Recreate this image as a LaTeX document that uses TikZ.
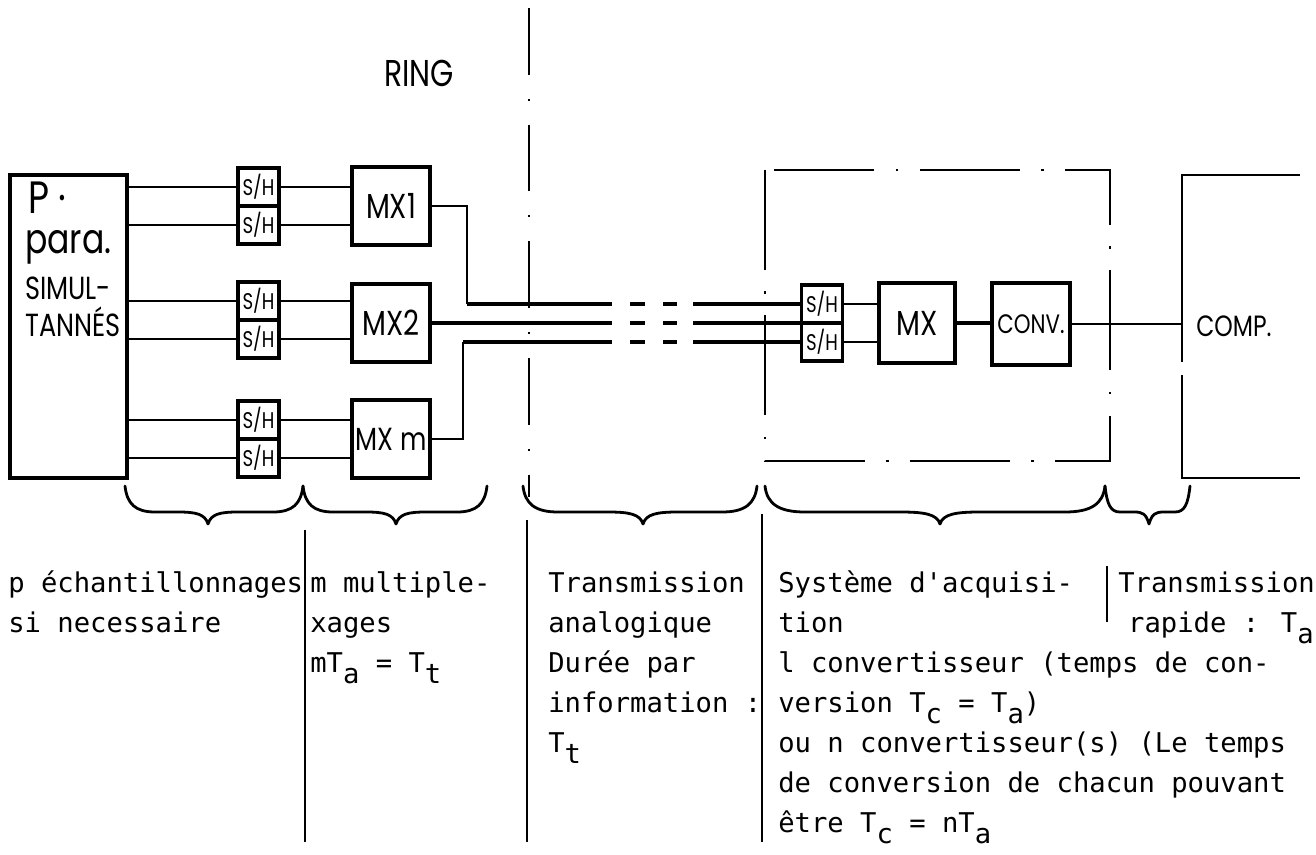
\documentclass[tikz,border=0pt]{standalone}
\usepackage{fontspec}
\setmainfont{DejaVu Sans Mono}
\newfontfamily\monof{DejaVu Sans Mono}
\newfontfamily\handf[FakeStretch=0.8]{Poppins}
\newcommand\dn[1]{\raisebox{-0.42em}{#1}}
\newcommand\hbrace[4]{%
  \draw[bracel] (#1,486) .. controls (#1+2,504) and (#1+#4*0.35,512) .. (#1+#4,512)
    -- (#2-#4,512) .. controls (#2-#4*0.4,512) and (#2-3,514) .. (#2,524)
    .. controls (#2+3,514) and (#2+#4*0.4,512) .. (#2+#4,512)
    -- (#3-#4,512) .. controls (#3-#4*0.35,512) and (#3-2,504) .. (#3,486);}
\begin{document}
\begin{tikzpicture}[x=0.75pt,y=-0.75pt,
  box/.style={draw,line width=2.3pt,inner sep=0pt},
  shbox/.style={box,minimum width=30.75pt,minimum height=28.5pt,font=\handf\fontsize{17}{17}\selectfont},
  mxbox/.style={box,minimum width=58.5pt,minimum height=58.5pt,font=\handf\fontsize{26}{26}\selectfont},
  wire/.style={line width=2.1pt},
  twire/.style={line width=2.8pt},
  dashdot/.style={line width=1.4pt,dash pattern=on 50pt off 18pt on 1.5pt off 18pt},
  rectdd/.style={line width=1.5pt,dash pattern=on 75pt off 16pt on 2pt off 16pt},
  sep/.style={line width=1.8pt},
  bracel/.style={line width=2.1pt,line cap=round,line join=round},
  txt/.style={font=\monof\fontsize{20.4}{30}\selectfont,inner sep=0pt,anchor=base west},
  hand/.style={font=\handf\fontsize{24}{24}\selectfont,inner sep=0pt,anchor=base west}
]
\useasboundingbox (0,0) rectangle (1316,855);

% RING label and main dash-dot line
\node[font=\handf\fontsize{28}{28}\selectfont,inner sep=0pt] (ring) at (419,73) {RING};
\coordinate (vtop) at (529,8);
\coordinate (vbot) at (529,497);
\draw[dashdot] (vtop) -- (vbot);

% P box
\node[box,minimum width=87.75pt,minimum height=227.25pt] (P) at (68.5,326.5) {};
\node[hand,font=\handf\fontsize{34}{34}\selectfont] (pt1) at (28,214) {P\hspace{0.2em}·};
\node[hand,font=\handf\fontsize{31}{31}\selectfont] (pt2) at (25,254) {para.};
\node[hand] (pt3) at (25,300) {SIMUL-};
\node[hand] (pt4) at (25,337) {TANNÉS};

% S/H left
\node[shbox] (sh1a) at (258.5,187) {S/H};
\node[shbox] (sh1b) at (258.5,225) {S/H};
\node[shbox] (sh2a) at (258.5,301) {S/H};
\node[shbox] (sh2b) at (258.5,339) {S/H};
\node[shbox] (sh3a) at (258.5,420) {S/H};
\node[shbox] (sh3b) at (258.5,458) {S/H};

% MX boxes
\node[mxbox] (mx1) at (391,206) {MX1};
\node[mxbox] (mx2) at (391,323) {MX2};
\node[mxbox,font=\handf\fontsize{24}{24}\selectfont] (mxm) at (391,439) {MX m};

% wires P -> S/H -> MX
\foreach \s in {sh1a,sh1b,sh2a,sh2b,sh3a,sh3b}{
  \draw[wire] (P.east |- \s.west) -- (\s.west);
}
\draw[wire] (sh1a.east) -- (mx1.west |- sh1a.east);
\draw[wire] (sh1b.east) -- (mx1.west |- sh1b.east);
\draw[wire] (sh2a.east) -- (mx2.west |- sh2a.east);
\draw[wire] (sh2b.east) -- (mx2.west |- sh2b.east);
\draw[wire] (sh3a.east) -- (mxm.west |- sh3a.east);
\draw[wire] (sh3b.east) -- (mxm.west |- sh3b.east);

% transmission lines
\coordinate (j1) at (467,304);
\coordinate (j3) at (463,342);
\coordinate (e1) at (612,304);
\coordinate (e2) at (612,323);
\coordinate (e3) at (612,342);
\draw[wire] (mx1.east) -| (j1);
\draw[twire] (j1) -- (e1);
\draw[twire] (mx2.east) -- (e2);
\draw[wire] (mxm.east) -| (j3);
\draw[twire] (j3) -- (e3);
\foreach \y in {304,323,342}{
  \draw[twire] (630,\y) -- (645,\y);
  \draw[twire] (663,\y) -- (677,\y);
}

% acquisition system (dash-dot frame)
\draw[rectdd] (765,170) rectangle (1110,461);
\node[shbox] (rsha) at (822,304) {S/H};
\node[shbox] (rshb) at (822,342) {S/H};
\coordinate (s1) at (693,304);
\coordinate (s2) at (693,323);
\coordinate (s3) at (693,342);
\draw[twire] (s1) -- (rsha.west |- s1);
\draw[twire] (s2) -- (s2 -| rsha.west);
\draw[twire] (s3) -- (rshb.west |- s3);
\node[mxbox,minimum width=57pt,minimum height=60pt] (mxr) at (917,323) {MX};
\node[box,minimum width=58.5pt,minimum height=61.5pt,font=\handf\fontsize{20}{20}\selectfont] (conv) at (1031,324) {CONV.};
\draw[wire] (rsha.east |- s1) -- (mxr.west |- s1);
\draw[wire] (rshb.east |- s3) -- (mxr.west |- s3);
\draw[twire] (mxr.east) -- (mxr.east -| conv.west);

% computer
\coordinate (ctl) at (1182,175);
\coordinate (ctr) at (1300,175);
\coordinate (cg1) at (1182,362);
\coordinate (cg2) at (1182,375);
\coordinate (cbl) at (1182,478);
\coordinate (cbr) at (1300,478);
\coordinate (compin) at (1182,324);
\draw[wire] (ctr) -- (ctl) -- (cg1);
\draw[wire] (cg2) -- (cbl) -- (cbr);
\node[font=\handf\fontsize{22}{22}\selectfont,inner sep=0pt] (comp) at (1234,326) {COMP.};
\draw[wire] (conv.east) -- (compin);

% braces
\hbrace{125}{208}{303}{30}
\hbrace{303}{396}{487}{30}
\hbrace{523}{643}{757}{35}
\hbrace{765}{940}{1105}{40}
\hbrace{1105}{1149}{1190}{15}

% column separators
\draw[sep] (305,530) -- (305,842);
\draw[sep] (527,520) -- (527,842);
\draw[sep] (762,514) -- (762,842);
\draw[line width=2.2pt] (1107,566) -- (1107,622);

% texts
\node[txt] (c1a) at (8,592) {p échantillonnages};
\node[txt] (c1b) at (8,632) {si necessaire};
\node[txt] (c2a) at (310,592) {m multiple-};
\node[txt] (c2b) at (310,632) {xages};
\node[txt] (c2c) at (310,672) {mT\dn{a} = T\dn{t}};
\node[txt] (c3a) at (548,592) {Transmission};
\node[txt] (c3b) at (548,632) {analogique};
\node[txt] (c3c) at (548,672) {Durée par};
\node[txt] (c3d) at (548,712) {information :};
\node[txt] (c3e) at (548,752) {T\dn{t}};
\node[txt] (c4a) at (778,592) {Système d'acquisi-};
\node[txt] (c4b) at (778,632) {tion};
\node[txt] (c4c) at (778,672) {l convertisseur (temps de con-};
\node[txt] (c4d) at (778,712) {version T\dn{c} = T\dn{a})};
\node[txt] (c4e) at (778,752) {ou n convertisseur(s) (Le temps};
\node[txt] (c4f) at (778,792) {de conversion de chacun pouvant};
\node[txt] (c4g) at (778,832) {être T\dn{c} = nT\dn{a}};
\node[txt] (c5a) at (1118,592) {Transmission};
\node[txt,anchor=base east] (c5b) at (1314,632) {rapide : T\dn{a}};
\end{tikzpicture}
\end{document}
